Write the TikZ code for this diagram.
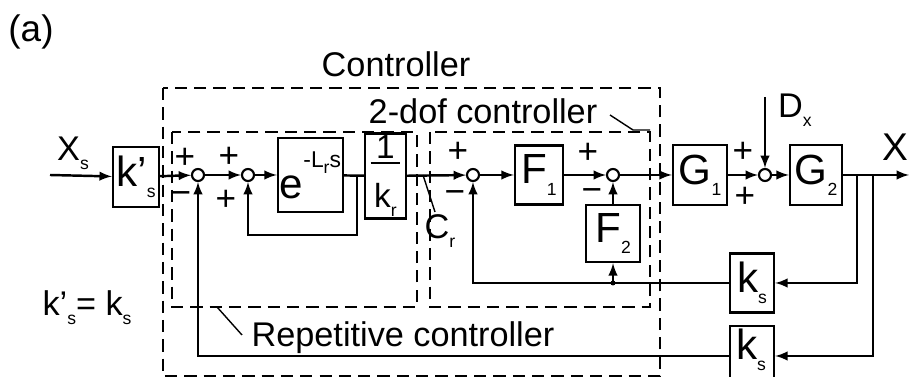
\documentclass[tikz,border=0pt]{standalone}
\usepackage{fontspec}
\setmainfont{Liberation Sans}
\usetikzlibrary{arrows}
\newcommand{\sbs}[1]{\raisebox{-0.5ex}{\fontsize{10}{10}\selectfont #1}}

\begin{document}
\begin{tikzpicture}[x=0.02cm, y=-0.02cm, line width=1.4pt,
  blk/.style={draw, rectangle, inner sep=0pt, font=\fontsize{24}{26}\selectfont},
  sumpt/.style={draw, circle, minimum size=0.24cm, inner sep=0pt, line width=1.2pt},
  sgn/.style={inner sep=0pt, font=\fontsize{20}{20}\selectfont},
  lbl/.style={inner sep=0pt, font=\fontsize{19.5}{21}\selectfont},
  frame/.style={line width=0.9pt, dash pattern=on 7pt off 4pt},
  lead/.style={line width=0.8pt}]
\useasboundingbox (0,0) rectangle (909,377);

%dashed frames
\draw[frame] (163,88) rectangle (660,376);
\draw[frame] (172,132) rectangle (417,307);
\draw[frame] (430,132) rectangle (650,307);

%blocks
\node[blk, minimum width=0.92cm, minimum height=1.2cm] (ksp) at (136,177) {k'\sbs{s}};
\node[blk, minimum width=1.3cm, minimum height=1.48cm] (dly) at (310.5,175) {\raisebox{-0.3ex}{e}\raisebox{1.1ex}{\fontsize{13}{13}\selectfont -L\sbs{r}s}};
\node[blk, minimum width=0.82cm, minimum height=1.42cm, font=\fontsize{19}{20}\selectfont] (kr) at (385.5,176) {\setlength{\arrayrulewidth}{1.1pt}\begin{tabular}{@{\kern2pt}c@{\kern2pt}}1\\[-4pt]\hline\rule{0pt}{2.5ex}k\sbs{r}\end{tabular}};
\node[blk, minimum width=0.96cm, minimum height=1.18cm] (f1) at (539,175) {F\sbs{1}};
\node[blk, minimum width=1.08cm, minimum height=1.14cm] (f2) at (613,233.5) {F\sbs{2}};
\node[blk, minimum width=1.08cm, minimum height=1.2cm] (g1) at (700,175) {G\sbs{1}};
\node[blk, minimum width=1.04cm, minimum height=1.2cm] (g2) at (816,175) {G\sbs{2}};
\node[blk, minimum width=0.88cm, minimum height=1.18cm] (ks1) at (752,283) {k\sbs{s}};
\node[blk, minimum width=0.88cm, minimum height=1.2cm] (ks2) at (752,356) {};
\node[inner sep=0pt, font=\fontsize{24}{26}\selectfont] (ks2t) at (751,350) {k\sbs{s}};

%summing points
\node[sumpt] (s1) at (198,175) {};
\node[sumpt] (s2) at (248,175) {};
\node[sumpt] (s3) at (473,175) {};
\node[sumpt] (s4) at (613,175) {};
\node[sumpt] (s5) at (765,175) {};

\coordinate (xin) at (50,175);
\coordinate (xout) at (909,175);
\coordinate (dtop) at (765,97);
\coordinate (b1) at (357,175);
\coordinate (b2) at (857,175);
\coordinate (b3) at (873,175);
\coordinate (j1) at (613,283);

%forward path
\draw[-latex] (xin) -- (ksp);
\draw[-latex] (ksp) -- (s1);
\draw[-latex] (s1) -- (s2);
\draw[-latex] (s2) -- (dly);
\draw (dly) -- (kr);
\draw[-latex] (kr) -- (s3);
\draw[-latex] (s3) -- (f1);
\draw[-latex] (f1) -- (s4);
\draw[-latex] (s4) -- (g1);
\draw[-latex] (g1) -- (s5);
\draw[-latex] (dtop) -- (s5);
\draw[-latex] (s5) -- (g2);
\draw[-latex] (g2) -- (xout);

%feedback
\draw[-latex] (b1) -- ++(0,60) -| (s2);
\draw[-latex] (f2) -- (s4);
\draw[-latex] (b2) |- (ks1);
\draw[-latex] (b3) |- (ks2);
\draw[-latex] (ks1) -| (s3);
\draw[-latex] (j1) -- (f2);
\fill (j1) circle (2.5);
\draw[-latex] (ks2) -| (s1);

%signs
\node[sgn] (p1a) at (185,158) {+};
\node[sgn] (m1b) at (181,198) {−};
\node[sgn] (p2a) at (229,157) {+};
\node[sgn] (p2b) at (226,200) {+};
\node[sgn] (p3a) at (458,152) {+};
\node[sgn] (m3b) at (455,197) {−};
\node[sgn] (p4a) at (588,153) {+};
\node[sgn] (m4b) at (592,195) {−};
\node[sgn] (p5a) at (743,152) {+};
\node[sgn] (p5b) at (745,197) {+};

%labels
\node[lbl, font=\fontsize{21}{22}\selectfont] (tag) at (31,32) {(a)};
\node[lbl] (ctl) at (396,64) {Controller};
\node[lbl] (dof) at (483,111) {2-dof controller};
\node[lbl] (rep) at (403,338) {Repetitive controller};
\node[lbl] (cr) at (440,231) {C\sbs{r}};
\node[lbl] (xs) at (73,153) {X\sbs{s}};
\node[lbl] (dx) at (795,110) {D\sbs{x}};
\node[lbl, font=\fontsize{22}{22}\selectfont] (xo) at (895,147) {X};
\node[lbl] (eq) at (87,308) {k'\sbs{s}= k\sbs{s}};

%leaders
\draw[lead] (610,115) -- (633,130) -- (650,130);
\draw[lead] (217,307) -- (242,335);
\draw[lead] (423,175) -- (435,212);

\end{tikzpicture}
\end{document}
